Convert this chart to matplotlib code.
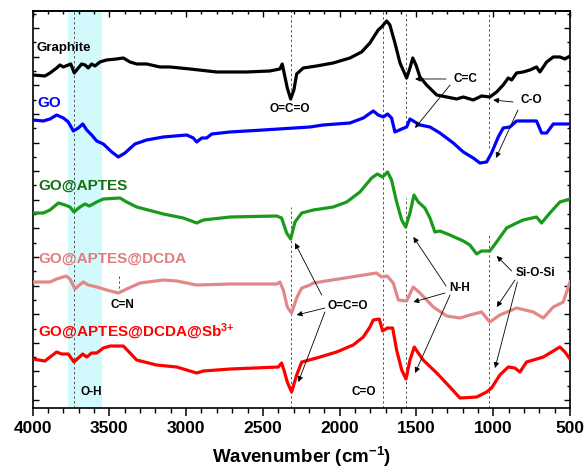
import matplotlib
matplotlib.use('Agg')
import matplotlib.pyplot as plt
import numpy as np

plt.rcParams['font.family'] = ['Liberation Sans', 'DejaVu Sans']
plt.rcParams['font.weight'] = 'bold'
plt.rcParams['mathtext.fontset'] = 'custom'
plt.rcParams['mathtext.rm'] = 'Liberation Sans:bold'
plt.rcParams['mathtext.bf'] = 'Liberation Sans:bold'
plt.rcParams['mathtext.default'] = 'bf'

# FTIR spectra (wavenumber in cm-1, transmittance in a.u., stacked with offsets)
wn_graphite = [4000, 3919, 3886, 3843, 3821, 3799, 3767, 3751, 3728, 3702, 3680, 3658, 3637, 3615, 3593,
               3561, 3517, 3452, 3409, 3365, 3322, 3257, 3170, 3105, 2975, 2801, 2606, 2454, 2389, 2374,
               2363, 2341, 2319, 2298, 2280, 2237, 2150, 2042, 1933, 1857, 1803, 1749, 1727, 1694, 1673,
               1640, 1607, 1564, 1542, 1524, 1503, 1477, 1434, 1368, 1303, 1238, 1195, 1130, 1076, 1022,
               978, 935, 902, 880, 848, 805, 761, 718, 696, 652, 609, 566, 533, 500]
t_graphite = [33.3, 33.2, 33.5, 34.0, 34.3, 34.1, 34.3, 34.4, 33.5, 34.0, 34.4, 34.3, 34.0, 34.4, 34.2,
              34.6, 34.8, 34.9, 35.0, 34.6, 34.4, 34.4, 34.1, 34.1, 33.9, 33.6, 33.6, 33.7, 33.9, 34.4,
              33.6, 32.0, 30.9, 31.8, 33.4, 34.0, 34.2, 34.5, 35.0, 35.6, 36.5, 37.8, 38.1, 38.7, 38.3,
              36.5, 34.5, 33.0, 34.0, 35.0, 34.3, 33.1, 32.3, 31.3, 31.1, 30.9, 31.1, 30.8, 31.2, 31.1,
              31.6, 32.3, 33.0, 32.8, 33.5, 33.6, 33.8, 34.1, 33.6, 34.6, 35.1, 35.1, 34.9, 35.2]

wn_go = [4000, 3930, 3886, 3843, 3799, 3767, 3734, 3702, 3673, 3647, 3615, 3582, 3539, 3484, 3441,
         3398, 3333, 3257, 3148, 2996, 2953, 2931, 2898, 2866, 2833, 2714, 2497, 2193, 2107, 1933,
         1846, 1781, 1749, 1716, 1688, 1662, 1640, 1596, 1564, 1542, 1510, 1477, 1412, 1347, 1260,
         1195, 1130, 1087, 1043, 1011, 967, 935, 891, 848, 718, 685, 652, 609, 500]
t_go = [28.8, 28.7, 28.9, 29.3, 29.0, 28.6, 27.7, 28.0, 28.4, 27.8, 27.3, 26.7, 26.4, 25.6, 25.1,
        25.5, 26.4, 26.8, 27.1, 27.3, 27.0, 26.6, 27.0, 27.0, 27.4, 27.6, 27.8, 28.1, 28.3, 28.5,
        29.0, 29.7, 29.3, 29.1, 29.4, 29.0, 27.6, 27.9, 28.1, 28.9, 28.6, 28.3, 28.1, 27.5, 26.5,
        25.6, 25.0, 24.5, 24.6, 25.5, 27.1, 28.0, 28.1, 28.7, 28.7, 27.5, 27.5, 28.4, 28.4]

wn_aptes = [4000, 3930, 3886, 3832, 3788, 3756, 3730, 3691, 3658, 3630, 3582, 3539, 3430, 3387, 3322,
            3148, 3018, 2931, 2888, 2714, 2410, 2378, 2345, 2319, 2291, 2247, 2172, 2042, 1954, 1868,
            1792, 1755, 1720, 1688, 1662, 1629, 1596, 1570, 1542, 1516, 1488, 1445, 1412, 1380, 1347,
            1282, 1195, 1152, 1108, 1076, 1022, 978, 913, 848, 805, 718, 685, 631, 566, 500]
t_aptes = [19.5, 19.5, 19.8, 20.5, 20.3, 20.1, 19.6, 20.1, 20.4, 20.2, 20.6, 20.9, 21.0, 20.6, 20.1,
           19.4, 19.0, 18.5, 18.8, 19.1, 19.2, 19.0, 17.5, 16.9, 18.6, 19.5, 19.8, 20.1, 20.6, 21.6,
           23.0, 23.4, 23.1, 23.6, 22.8, 20.6, 18.8, 18.1, 19.5, 21.3, 20.6, 20.0, 19.0, 17.6, 17.7,
           17.3, 16.7, 16.3, 15.4, 15.7, 15.7, 16.6, 18.0, 18.5, 18.8, 19.1, 18.5, 19.5, 20.6, 20.9]

wn_dcda = [4000, 3886, 3843, 3782, 3756, 3723, 3695, 3669, 3637, 3582, 3517, 3441, 3387, 3300, 3148,
           3061, 2931, 2714, 2410, 2389, 2367, 2341, 2313, 2280, 2247, 2193, 2172, 1760, 1727, 1690,
           1651, 1618, 1564, 1521, 1477, 1390, 1303, 1217, 1152, 1076, 1022, 957, 848, 739, 674,
           609, 544, 511, 500]
t_dcda = [12.6, 12.6, 12.9, 13.2, 12.9, 11.9, 12.3, 12.6, 12.3, 12.1, 11.8, 11.5, 11.9, 12.5, 12.8,
          12.7, 12.3, 12.4, 12.4, 12.6, 11.8, 10.1, 9.5, 11.0, 12.0, 12.3, 12.5, 13.5, 13.1, 13.2,
          12.5, 10.8, 10.7, 12.1, 11.5, 10.1, 9.2, 9.0, 9.3, 9.6, 8.6, 9.3, 10.0, 9.6, 9.0,
          10.1, 10.6, 12.1, 12.6]

wn_sb = [4000, 3919, 3886, 3843, 3810, 3767, 3730, 3702, 3673, 3647, 3615, 3582, 3539, 3495, 3409,
         3365, 3322, 3192, 3061, 2931, 2888, 2714, 2400, 2378, 2363, 2341, 2313, 2280, 2247, 2150,
         2020, 1912, 1846, 1803, 1781, 1742, 1720, 1690, 1655, 1629, 1596, 1568, 1542, 1514, 1488,
         1456, 1368, 1282, 1217, 1108, 1043, 1011, 957, 902, 859, 826, 783, 674, 620, 566, 533, 500]
t_sb = [4.9, 4.7, 5.1, 5.6, 5.4, 5.4, 4.6, 5.0, 5.4, 5.1, 5.5, 5.5, 6.0, 6.2, 6.2,
        5.5, 4.8, 4.3, 4.1, 3.5, 3.7, 3.9, 4.1, 4.5, 3.8, 2.6, 1.6, 3.3, 4.6, 5.0,
        5.6, 6.3, 7.1, 8.1, 8.8, 8.9, 7.7, 8.0, 8.0, 5.8, 3.8, 2.9, 4.8, 6.1, 5.5,
        4.8, 3.5, 2.1, 1.0, 1.1, 1.6, 2.0, 3.3, 4.1, 4.0, 3.6, 4.6, 5.1, 5.6, 6.1, 5.6, 4.9]

names = ['Graphite', 'GO', 'GO@APTES', 'GO@APTES@DCDA', r'GO@APTES@DCDA@Sb$^{3{+}}$']
line_colors = ['black', '#0000ff', '#1a9a1a', '#e28888', '#ff0000']
label_colors = ['black', '#0000ff', '#127012', '#e07c7c', '#ff0000']

fig = plt.figure(figsize=(5.86, 4.75), dpi=100)
ax = fig.add_axes([0.0555, 0.141, 0.9172, 0.8359])

# O-H band
ax.axvspan(3550, 3770, color='#d2fafc', zorder=0, lw=0)

# band markers
dash = dict(colors='#555555', linestyles=(0, (2.5, 2.5)), lw=0.7, zorder=1)
ax.vlines(3730, 0, 40, **dash)
ax.vlines(1720, 0, 40, **dash)
ax.vlines([2317, 1569, 1028], [30.8, 28.5, 26.0], 40, **dash)
ax.vlines([2317, 1569, 1028], 0, [20.1, 21.0, 17.5], **dash)
ax.vlines(3437, 11.5, 13.4, **dash)

series = [(wn_graphite, t_graphite), (wn_go, t_go), (wn_aptes, t_aptes),
          (wn_dcda, t_dcda), (wn_sb, t_sb)]
for (wn, t), c in zip(series, line_colors):
    ax.plot(wn, t, color=c, lw=2.3, solid_joinstyle='round', zorder=3)

# sample names
name_pos = [(3977, 36.0, 9.5), (3971, 30.5, 11), (3964, 22.2, 11), (3964, 14.9, 11), (3964, 7.6, 11)]
for n, c, (x, y, fs) in zip(names, label_colors, name_pos):
    ax.text(x, y, n, color=c, fontsize=fs, fontweight='bold', ha='left', va='center', zorder=4)

# peak assignments
tfs = 8.5
ax.text(2323, 29.9, 'O=C=O', fontsize=tfs, ha='center', va='center')
ax.text(1180, 32.9, 'C=C', fontsize=tfs, ha='center', va='center')
ax.text(754, 30.8, 'C-O', fontsize=tfs, ha='center', va='center')
ax.text(3417, 10.3, 'C=N', fontsize=tfs, ha='center', va='center')
ax.text(3619, 1.6, 'O-H', fontsize=tfs, ha='center', va='center')
ax.text(1946, 10.2, 'O=C=O', fontsize=tfs, ha='center', va='center')
ax.text(1216, 12.0, 'N-H', fontsize=tfs, ha='center', va='center')
ax.text(728, 13.5, 'Si-O-Si', fontsize=tfs, ha='center', va='center')
ax.text(1842, 1.6, 'C=O', fontsize=tfs, ha='center', va='center')

arrows = [
    ((1307, 32.9), (1509, 32.9)), ((1281, 32.3), (1509, 28.0)),
    ((871, 30.6), (1000, 30.8)), ((839, 29.8), (982, 25.0)),
    ((2117, 11.3), (2291, 16.5)), ((2096, 10.0), (2280, 9.3)), ((2096, 9.6), (2269, 2.6)),
    ((1307, 12.2), (1520, 17.1)), ((1314, 11.5), (1520, 10.6)), ((1281, 11.3), (1509, 3.5)),
    ((880, 13.7), (977, 15.2)), ((858, 12.8), (977, 10.1)), ((843, 12.6), (988, 4.0)),
]
for tail, head in arrows:
    ax.annotate('', xy=head, xytext=tail,
                arrowprops=dict(arrowstyle='-|>', color='black', lw=0.6,
                                mutation_scale=8, shrinkA=0, shrinkB=0), zorder=5)

ax.set_xlim(4000, 500)
ax.set_ylim(0, 39.7)
ax.set_xticks(np.arange(4000, 499, -500))
ax.set_xticks(np.arange(4000, 499, -100), minor=True)
ax.set_yticks(np.arange(0.8, 39.7, 2.86))
ax.set_yticks(np.arange(2.23, 39.7, 2.86), minor=True)
ax.tick_params(axis='x', which='major', direction='out', length=6, width=1.1, labelsize=12.5)
ax.tick_params(axis='x', which='minor', direction='out', length=3.5, width=1.0)
ax.tick_params(axis='y', which='major', direction='in', length=4, width=1.0,
               left=True, right=True, labelleft=False)
ax.tick_params(axis='y', which='minor', direction='in', length=2.5, width=1.0,
               left=True, right=True)
for lab in ax.get_xticklabels():
    lab.set_fontweight('bold')

top = ax.secondary_xaxis('top')
top.set_xticks(np.arange(4000, 499, -500))
top.set_xticks(np.arange(4000, 499, -100), minor=True)
top.tick_params(axis='x', which='major', direction='in', length=4, width=1.0, labeltop=False)
top.tick_params(axis='x', which='minor', direction='in', length=2.5, width=1.0)
top.spines['top'].set_linewidth(1.2)

for s in ax.spines.values():
    s.set_linewidth(1.2)

ax.set_xlabel('Wavenumber (cm$^{-1}$)', fontsize=13.5, fontweight='bold', labelpad=6)

fig.savefig('out.png', dpi=100)
